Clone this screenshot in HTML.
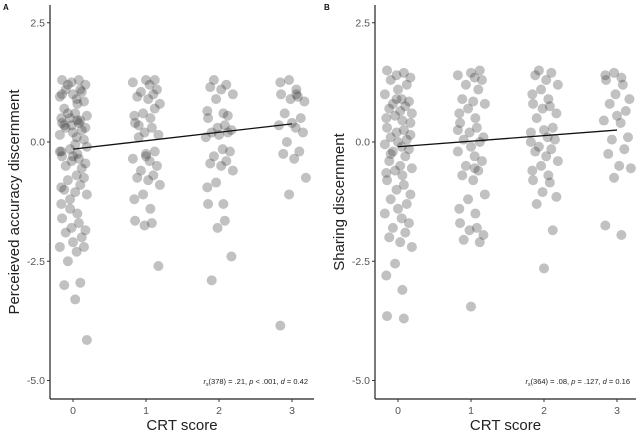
<!DOCTYPE html>
<html><head><meta charset="utf-8"><style>
body{margin:0;background:#fff;}
svg{display:block;font-family:"Liberation Sans",sans-serif;}
</style></head><body>
<svg id="chart" width="640" height="434" viewBox="0 0 640 434"></svg>
<script>
// Panel A data
const crtCategories = [0, 1, 2, 3];
const yTicks = [2.5, 0.0, -2.5, -5.0];
const yTickLabels = ["2.5", "0.0", "-2.5", "-5.0"];
const jitterPattern = [-0.15,0.08,-0.02,0.17,-0.1,0.12,0.0,-0.18,0.05,0.15,-0.07,0.1,-0.12,0.03,0.19,-0.04,-0.16,0.06];
const aGroup0 = [1.3,1.3,1.25,1.2,1.1,1.05,1.0,0.95,0.9,0.85,1.2,1.1,0.7,0.6,0.55,0.5,0.5,0.45,0.4,0.4,0.35,0.3,0.3,0.25,0.2,0.15,0.1,0.05,0.6,0.45,0.35,-0.05,-0.1,-0.15,-0.2,-0.25,-0.3,-0.35,-0.4,-0.45,-0.5,-0.55,-0.3,-0.2,-0.7,-0.75,-0.8,-0.9,-1.0,-1.05,-1.1,-1.2,-1.3,-1.5,-1.6,-1.7,-1.8,-1.85,-1.9,-2.0,-2.1,-2.2,-2.3,-2.2,-2.5,-2.95,-3.0,-3.3,-4.15,-1.4,-0.95,0.8,1.0];
const aGroup1 = [1.3,1.3,1.25,1.2,1.1,1.05,1.0,0.95,0.9,0.8,0.6,0.55,0.5,0.4,0.3,0.2,0.15,0.1,-0.2,-0.25,-0.35,-0.4,-0.5,-0.6,-0.7,-0.75,-0.8,-0.9,-1.1,-1.2,-1.4,-1.65,-1.7,-1.75,-2.6,0.35,0.7,-0.3];
const aGroup2 = [1.3,1.2,1.15,1.1,1.0,0.9,0.65,0.6,0.5,0.35,0.3,0.25,0.2,0.2,0.15,0.1,-0.15,-0.2,-0.3,-0.4,-0.45,-0.5,-0.6,-0.85,-0.95,-1.3,-1.3,-1.65,-1.8,-2.4,-2.9,0.55];
const aGroup3 = [1.3,1.25,1.1,1.0,0.95,0.9,0.85,0.6,0.5,0.4,0.35,0.3,0.2,0.0,-0.2,-0.25,-0.35,-0.75,-1.1,-3.85,1.0];
const aFit = [-0.15, 0.38];
// Panel B data
const bGroup0 = [1.5,1.45,1.4,1.35,1.3,1.2,1.1,1.0,0.9,0.85,0.8,0.75,0.7,0.65,0.6,0.55,0.5,0.45,0.3,0.25,0.2,0.15,0.1,0.05,0.0,-0.05,-0.1,-0.15,-0.2,-0.3,-0.4,-0.5,-0.55,-0.6,-0.65,-0.7,-0.8,-0.9,-1.0,-1.1,-1.2,-1.3,-1.4,-1.5,-1.6,-1.7,-1.8,-1.9,-2.0,-2.1,-2.2,-2.55,-2.8,-3.1,-3.65,-3.7,0.9,0.4,-0.25];
const bGroup1 = [1.5,1.45,1.4,1.35,1.3,1.2,1.1,0.9,0.85,0.8,0.7,0.6,0.5,0.4,0.3,0.2,0.1,0.05,0.0,-0.1,-0.2,-0.3,-0.4,-0.5,-0.6,-0.7,-0.8,-1.1,-1.2,-1.4,-1.5,-1.7,-1.8,-1.85,-1.95,-2.05,-2.1,-3.45,0.25,-0.55];
const bGroup2 = [1.5,1.45,1.4,1.3,1.2,1.1,1.0,0.9,0.8,0.75,0.7,0.6,0.5,0.3,0.25,0.2,0.1,0.05,-0.1,-0.15,-0.2,-0.3,-0.4,-0.5,-0.6,-0.7,-0.8,-0.85,-1.05,-1.15,-1.3,-1.85,-2.65,0.0];
const bGroup3 = [1.45,1.4,1.35,1.3,1.2,1.0,0.9,0.8,0.65,0.55,0.45,0.4,0.1,0.05,-0.15,-0.25,-0.5,-0.55,-0.75,-1.75,-1.95];
const bFit = [-0.1, 0.25];

const NS = "http://www.w3.org/2000/svg";
const svg = document.getElementById("chart");
function el(tag, attrs, parent){const e=document.createElementNS(NS,tag);for(const k in attrs)e.setAttribute(k,attrs[k]);(parent||svg).appendChild(e);return e;}

function panel(cfg){
  const g = el("g", {});
  
  
  const xs = v => cfg.x0 + v * 73;
  const ys = v => 142 - v * 47.7;
  const groups = [cfg.g0, cfg.g1, cfg.g2, cfg.g3];
  groups.forEach((arr, gi) => {
    arr.forEach((v, i) => {
      const j = jitterPattern[(i + gi * 5) % jitterPattern.length];
      const c = el("circle", {cx: xs(crtCategories[gi] + j), cy: ys(v), r: 5, fill: "#333", "fill-opacity": 0.3}, g);
      
      
    });
  });
  const fl = el("line", {x1: xs(0), y1: ys(cfg.fit[0]), x2: xs(3), y2: ys(cfg.fit[1]), stroke: "#111", "stroke-width": 1.3}, g);
  
  
  const ya = el("line", {x1: cfg.ax, y1: 5, x2: cfg.ax, y2: 399, stroke: "#222", "stroke-width": 1.2}, g);
  
  
  const xa = el("line", {x1: cfg.ax, y1: 399, x2: cfg.axEnd, y2: 399, stroke: "#222", "stroke-width": 1.2}, g);
  
  
  yTicks.forEach((t, i) => {
    el("line", {x1: cfg.ax - 3, y1: ys(t), x2: cfg.ax, y2: ys(t), stroke: "#333"}, g);
    const tx = el("text", {x: cfg.ax - 5, y: ys(t) + 3.5, "text-anchor": "end", "font-size": 10.5, fill: "#555"}, g);
    tx.textContent = yTickLabels[i];
    
    
  });
  crtCategories.forEach(c => {
    el("line", {x1: xs(c), y1: 399, x2: xs(c), y2: 402, stroke: "#333"}, g);
    const tx = el("text", {x: xs(c), y: 414, "text-anchor": "middle", "font-size": 10.5, fill: "#555"}, g);
    tx.textContent = c;
    
    
  });
  const xl = el("text", {x: (cfg.ax + cfg.axEnd) / 2, y: 430, "text-anchor": "middle", "font-size": 15, fill: "#222"}, g);
  xl.textContent = "CRT score";
  
  
  const yl = el("text", {transform: `translate(${cfg.ylx},${cfg.yly}) rotate(-90)`, "text-anchor": "middle", "font-size": 15, fill: "#222"}, g);
  yl.textContent = cfg.ylabel;
  
  
  const an = el("text", {x: cfg.axEnd - 6, y: 384, "text-anchor": "end", "font-size": 7.5, fill: "#222"}, g);
  an.innerHTML = cfg.annot;
  
  
  const pl = el("text", {x: cfg.letterX, y: 10, "font-size": 8, "font-weight": "bold", fill: "#111"}, g);
  pl.textContent = cfg.letter;
  
  
}

panel({name: "panel-a", x0: 73, ax: 50, axEnd: 314, g0: aGroup0, g1: aGroup1, g2: aGroup2, g3: aGroup3, fit: aFit,
  ylabel: "Perceieved accuracy discernment", ylx: 19, yly: 202, letter: "A", letterX: 3,
  annot: '<tspan font-style="italic">r</tspan><tspan font-size="5" dy="2">s</tspan><tspan dy="-2">(378) = .21, </tspan><tspan font-style="italic">p</tspan> &lt; .001, <tspan font-style="italic">d</tspan> = 0.42'});
panel({name: "panel-b", x0: 398, ax: 375, axEnd: 636, g0: bGroup0, g1: bGroup1, g2: bGroup2, g3: bGroup3, fit: bFit,
  ylabel: "Sharing discernment", ylx: 344, yly: 202, letter: "B", letterX: 324,
  annot: '<tspan font-style="italic">r</tspan><tspan font-size="5" dy="2">s</tspan><tspan dy="-2">(364) = .08, </tspan><tspan font-style="italic">p</tspan> = .127, <tspan font-style="italic">d</tspan> = 0.16'});
</script>
</body></html>
